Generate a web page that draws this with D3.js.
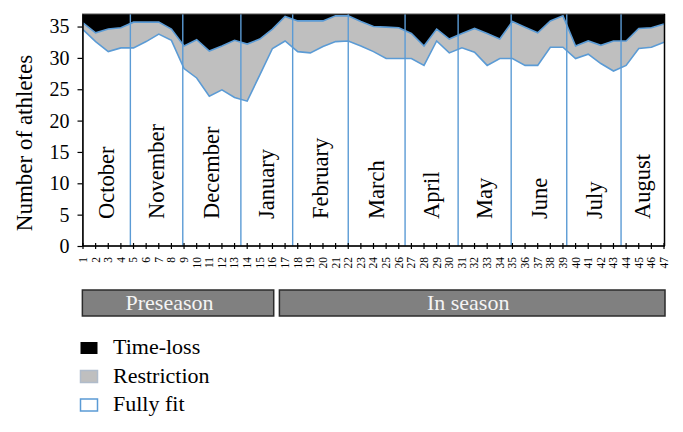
<!DOCTYPE html>
<html><head><meta charset="utf-8">
<script src="https://cdn.jsdelivr.net/npm/d3@7/dist/d3.min.js"></script>
<style>
html,body{margin:0;padding:0;background:#fff;}
svg{display:block;font-family:"Liberation Serif","Times New Roman",serif;}
</style></head>
<body>
<svg id="chart" width="683" height="432"></svg>
<script>
const weeks = d3.range(1, 48);
const fullyFit = [34.5,32.6,31.0,31.6,31.6,32.6,33.8,32.8,28.3,26.8,23.9,24.9,23.7,23.1,27.3,31.5,32.7,31.0,30.8,31.8,32.6,32.7,31.9,31.0,29.9,29.9,29.9,28.8,32.7,30.8,31.6,30.9,28.8,29.9,29.9,28.8,28.8,31.7,31.7,29.9,30.6,29.1,27.9,28.8,31.5,31.7,32.5];
const restriction = [1.1,1.4,3.6,3.2,4.1,3.1,1.9,1.8,3.6,6.1,7.2,7.0,9.1,9.1,5.7,3.1,3.9,4.9,5.1,4.1,4.1,4.0,3.9,4.0,5.0,4.9,4.0,3.1,1.9,2.2,2.3,3.8,5.1,3.1,5.9,6.1,5.2,4.2,5.0,2.0,2.1,2.9,4.8,3.9,3.2,3.1,2.9];
const timeLoss = [1.4,3.0,2.4,2.2,1.3,1.3,1.3,2.4,5.1,4.1,5.9,5.1,4.2,4.8,4.0,2.4,0.4,1.1,1.1,1.1,0.3,0.3,1.2,2.0,2.1,2.2,3.1,5.1,2.4,4.0,3.1,2.3,3.1,4.0,1.2,2.1,3.0,1.1,0.3,5.1,4.3,5.0,4.3,4.3,2.3,2.2,1.6];
const months = ["October","November","December","January","February","March","April","May","June","July","August"];
const monthBounds = [1, 4.75, 8.9, 13.5, 17.6, 22, 26.5, 30.7, 34.9, 39.3, 43.6, 47];
const phases = ["Preseason","In season"];
const phaseBounds = [[0.95, 16.1], [16.55, 47.08]];
const yTicks = [0,5,10,15,20,25,30,35];
const seriesNames = ["Fully fit","Restriction","Time-loss"];

const colors = {"Fully fit":"#ffffff","Restriction":"#bfbfbf","Time-loss":"#000000"};
const blue = "#5b9bd5";

const svg = d3.select("#chart");
const x = d3.scaleLinear().domain([1,47]).range([83,664]);
const y = d3.scaleLinear().domain([0,37]).range([246,14]);

const table = weeks.map((w,i)=>({week:w,"Fully fit":fullyFit[i],"Restriction":restriction[i],"Time-loss":timeLoss[i]}));
const stack = d3.stack().keys(seriesNames)(table);

const area = d3.area().x(d=>x(d.data.week)).y0(d=>y(d[0])).y1(d=>y(d[1]));
const line = d3.line().x(d=>x(d.data.week)).y(d=>y(d[1]));

const g = svg.append("g");
stack.forEach(s=>{
  g.append("path").attr("d",area(s)).attr("fill",colors[s.key]).attr("stroke","none");
});
stack.slice(0,2).forEach(s=>{
  g.append("path").attr("d",line(s)).attr("fill","none").attr("stroke",blue).attr("stroke-width",1.6);
});

// month separators
monthBounds.slice(1,-1).forEach(b=>{
  g.append("line").attr("x1",x(b)).attr("x2",x(b)).attr("y1",y(37)).attr("y2",y(0))
   .attr("stroke",blue).attr("stroke-width",1.4);
});
// month labels
months.forEach((m,i)=>{
  const cx = x((monthBounds[i]+monthBounds[i+1])/2);
  svg.append("text").attr("transform",`translate(${cx},219) rotate(-90)`)
    .attr("dy","0.34em").attr("text-anchor","start").attr("font-size",22.5).attr("fill","#000").text(m);
});

// frame
svg.append("rect").attr("x",x(1)-0.5).attr("y",y(37)).attr("width",x(47)-x(1)+1).attr("height",y(0)-y(37))
  .attr("fill","none").attr("stroke","#555").attr("stroke-width",1);
svg.append("line").attr("x1",x(47)+0.5).attr("x2",x(47)+0.5).attr("y1",y(37)).attr("y2",y(0)).attr("stroke","#000").attr("stroke-width",1.5);

// y axis
const yAxis = svg.append("g").attr("transform",`translate(${x(1)-0.5},0)`)
  .call(d3.axisLeft(y).tickValues(yTicks).tickSize(5).tickPadding(8).tickSizeOuter(0));
yAxis.select(".domain").attr("stroke","#000").attr("stroke-width",1.5);
yAxis.selectAll(".tick line").attr("stroke","#000").attr("stroke-width",1.2);
yAxis.selectAll(".tick text").attr("font-family","Liberation Serif").attr("font-size",20).attr("fill","#000");

// x axis
const xAxis = svg.append("g").attr("transform",`translate(0,${y(0)})`);
xAxis.append("line").attr("x1",x(1)-0.5).attr("x2",x(47)+1).attr("y1",0).attr("y2",0).attr("stroke","#000").attr("stroke-width",1.5);
weeks.forEach(w=>{
  xAxis.append("line").attr("x1",x(w)).attr("x2",x(w)).attr("y1",-3).attr("y2",3).attr("stroke","#000").attr("stroke-width",1.2);
  xAxis.append("text").attr("transform",`translate(${x(w)},11) rotate(-90)`)
    .attr("dy","0.34em").attr("text-anchor","end").attr("font-size",11.5).attr("fill","#000").text(w);
});

// y label
svg.append("text").attr("transform","translate(32,143) rotate(-90)").attr("text-anchor","middle")
  .attr("font-size",23).attr("fill","#000").text("Number of athletes");

// phase bars
const phaseTextShift = [-8.5, -4];
phases.forEach((p,i)=>{
  const x0 = x(phaseBounds[i][0]), x1 = x(phaseBounds[i][1]);
  svg.append("rect").attr("x",x0).attr("y",290).attr("width",x1-x0).attr("height",26)
    .attr("fill","#808080").attr("stroke","#2b2b2b").attr("stroke-width",1.5);
  svg.append("text").attr("x",(x0+x1)/2 + phaseTextShift[i]).attr("y",310).attr("text-anchor","middle")
    .attr("font-size",22).attr("fill","#f4f4f4").text(p);
});

// legend
const legendItems = seriesNames.slice().reverse();
legendItems.forEach((k,i)=>{
  const yy = 342 + i*28.5;
  svg.append("rect").attr("x",80.5).attr("y",yy).attr("width",17).attr("height",12)
    .attr("fill",colors[k])
    .attr("stroke", k==="Fully fit"?blue:(k==="Restriction"?"#b0bccb":"none"))
    .attr("stroke-width",1.5);
  svg.append("text").attr("x",113).attr("y",yy+12).attr("font-size",22).attr("fill","#000").text(k);
});
</script>
</body></html>
